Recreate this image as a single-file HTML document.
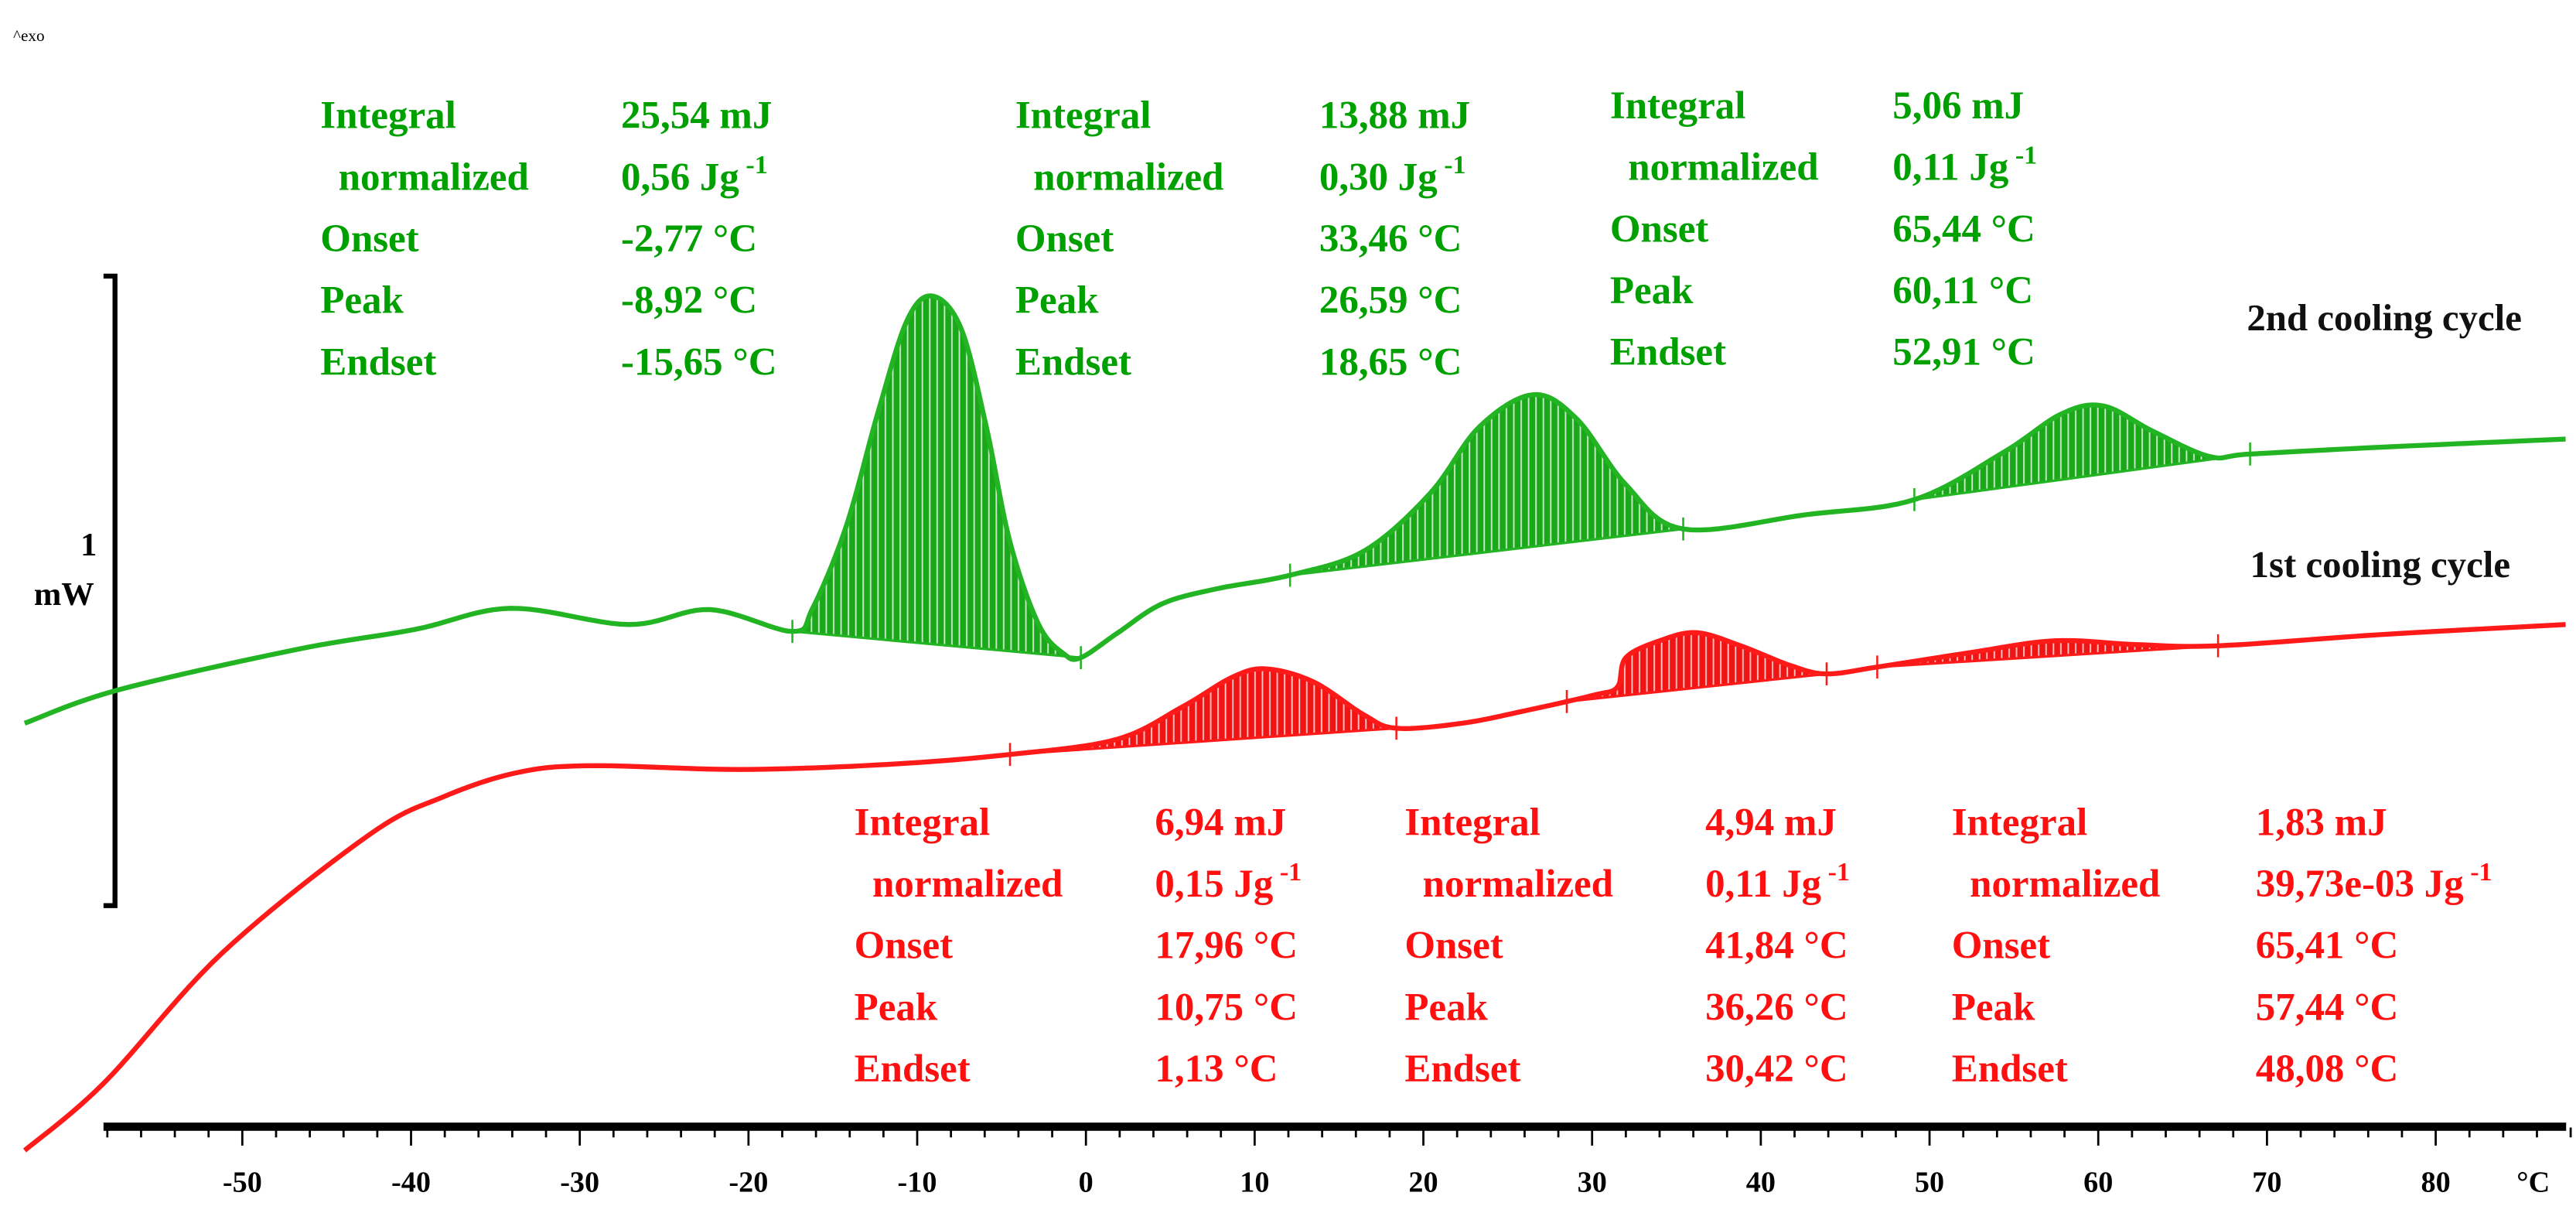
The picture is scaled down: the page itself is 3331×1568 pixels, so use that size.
<!DOCTYPE html>
<html><head><meta charset="utf-8">
<style>
html,body{margin:0;padding:0;background:#fff;}
svg{display:block;}
text{font-family:"Liberation Serif",serif;font-weight:bold;}
</style></head>
<body>
<svg id="chart" width="3331" height="1568" viewBox="0 0 1568 738" preserveAspectRatio="none" xmlns="http://www.w3.org/2000/svg">
<defs>
<pattern id="hatch" width="4.5" height="10" patternUnits="userSpaceOnUse">
<rect x="3" y="0" width="0.9" height="10" fill="#fff" opacity="0.75"/>
</pattern>
</defs>
<text x="8" y="25" font-size="10" font-family="Liberation Sans" style="font-weight:normal">^exo</text>
<g id="scalebar">
<path d="M63,168 L70,168 L70,551 L63,551" fill="none" stroke="#000" stroke-width="3"/>
<text x="54" y="338" font-size="20" text-anchor="middle">1</text>
<text x="39" y="368" font-size="20" text-anchor="middle">mW</text>
</g>
<g id="axis"></g>
<g id="fills"></g>
<g id="lines"></g>
<g id="marks"></g>
<text x="1535" y="201" font-size="23" text-anchor="end" fill="#111">2nd cooling cycle</text>
<text x="1528" y="351" font-size="23" text-anchor="end" fill="#111">1st cooling cycle</text>
<g id="tables"></g>
</svg>
<script>
// ---- data ----
const tickLabels = [-50,-40,-30,-20,-10,0,10,20,30,40,50,60,70,80];
const greenT = [-62.9,-57.4,-46.8,-39.8,-34.1,-27.1,-22.3,-17.4,-16.2,-14.2,-12.3,-10.6,-9.1,-7.4,-5.9,-4.5,-2.8,-1.3,-0.3,1.9,4.5,7.7,12.1,16.5,20.4,23.3,26.5,29.1,32.0,35.4,42.7,49.1,54.4,57.8,60.3,63.2,66.6,69.0,76.8,87.7];
const greenV = [0.421,0.474,0.539,0.571,0.605,0.579,0.603,0.568,0.605,0.737,0.921,1.066,1.105,1.053,0.895,0.711,0.579,0.532,0.526,0.566,0.612,0.636,0.658,0.697,0.789,0.895,0.947,0.908,0.803,0.732,0.755,0.779,0.855,0.916,0.929,0.889,0.848,0.852,0.863,0.876];
const redT = [-62.9,-58.2,-51.2,-42.5,-38.1,-33.7,-29.3,-20.5,-11.8,-4.5,1.8,5.7,8.7,10.7,13.5,16.5,18.4,22.3,26.2,30.1,31.5,32.0,34.0,36.2,38.8,41.8,43.9,46.9,52.4,57.4,62.2,67.1,76.8,87.7];
const redV = [-0.263,-0.155,0.053,0.242,0.303,0.342,0.353,0.347,0.355,0.371,0.395,0.447,0.495,0.508,0.487,0.434,0.413,0.421,0.442,0.466,0.479,0.526,0.553,0.566,0.545,0.513,0.500,0.511,0.534,0.553,0.547,0.545,0.563,0.579];
const greenRanges = [[-17.4,-0.3],[12.1,35.4],[49.1,69.0]];
const redRanges = [[-4.5,18.4],[28.5,43.9],[46.9,67.1]];
const greenLabels = ["Integral"," normalized","Onset","Peak","Endset"];
const greenVals1 = ["25,54 mJ","0,56 Jg","-2,77 °C","-8,92 °C","-15,65 °C"];
const greenVals2 = ["13,88 mJ","0,30 Jg","33,46 °C","26,59 °C","18,65 °C"];
const greenVals3 = ["5,06 mJ","0,11 Jg","65,44 °C","60,11 °C","52,91 °C"];
const redVals1 = ["6,94 mJ","0,15 Jg","17,96 °C","10,75 °C","1,13 °C"];
const redVals2 = ["4,94 mJ","0,11 Jg","41,84 °C","36,26 °C","30,42 °C"];
const redVals3 = ["1,83 mJ","39,73e-03 Jg","65,41 °C","57,44 °C","48,08 °C"];

// ---- scales ----
const NS="http://www.w3.org/2000/svg";
const xS = t => 661 + t*10.27;
const yS = v => 600 - v*380;
function mk(tag, attrs, parent){const e=document.createElementNS(NS,tag);for(const k in attrs)e.setAttribute(k,attrs[k]);parent.appendChild(e);return e;}

// axis
const ax=document.getElementById('axis');
const axLine = mk('rect',{x:63,y:683,width:1499,height:5,fill:'#000'},ax);


for(let t=-58;t<=88;t+=2){
  const major = t%10===0;
  const tk = mk('line',{x1:xS(t),x2:xS(t),y1:686,y2:major?697:692,stroke:'#000','stroke-width':1.3},ax);
  
  
}
tickLabels.forEach(t=>{
  const tx = mk('text',{x:xS(t),y:725,'font-size':18,'text-anchor':'middle'},ax);
  tx.textContent = String(t);
  
  
});
const unit = mk('text',{x:1542,y:725,'font-size':18,'text-anchor':'middle'},ax);
unit.textContent='°C';



// spline sampling
function sample(T,V){
  const pts=[];
  for(let i=0;i<T.length-1;i++){
    const p0=i>0?i-1:i,p3=i+2<T.length?i+2:i+1;
    for(let s=0;s<12;s++){
      const u=s/12,u2=u*u,u3=u2*u;
      const cr=(a,b,c,d)=>0.5*((2*b)+(-a+c)*u+(2*a-5*b+4*c-d)*u2+(-a+3*b-3*c+d)*u3);
      pts.push([cr(T[p0],T[i],T[i+1],T[p3]),cr(V[p0],V[i],V[i+1],V[p3])]);
    }
  }
  pts.push([T[T.length-1],V[V.length-1]]);
  return pts;
}
function valAt(pts,t){
  for(let i=0;i<pts.length-1;i++){if(pts[i][0]<=t&&pts[i+1][0]>=t){const f=(t-pts[i][0])/(pts[i+1][0]-pts[i][0]||1);return pts[i][1]+f*(pts[i+1][1]-pts[i][1]);}}
  return pts[pts.length-1][1];
}
function drawSeries(T,V,ranges,color,fillColor,name){
  const pts=sample(T,V);
  const fills=document.getElementById('fills');
  ranges.forEach((r,i)=>{
    const a=valAt(pts,r[0]),b=valAt(pts,r[1]);
    let d='M'+xS(r[0])+','+yS(a);
    pts.filter(p=>p[0]>r[0]&&p[0]<r[1]).forEach(p=>{d+=' L'+xS(p[0]).toFixed(2)+','+yS(p[1]).toFixed(2);});
    d+=' L'+xS(r[1])+','+yS(b)+' Z';
    const f=mk('path',{d:d,fill:fillColor},fills);
    
    
    const h=mk('path',{d:d,fill:'url(#hatch)'},fills);
    
    
    const bl=mk('line',{x1:xS(r[0]),y1:yS(a),x2:xS(r[1]),y2:yS(b),stroke:color,'stroke-width':1.5},fills);
    
    
    [[r[0],a],[r[1],b]].forEach(q=>{
      const m=mk('line',{x1:xS(q[0]),x2:xS(q[0]),y1:yS(q[1])-7,y2:yS(q[1])+7,stroke:color,'stroke-width':1.2},document.getElementById('marks'));
      
      
    });
  });
  let d='';
  pts.forEach((p,i)=>{d+=(i?' L':'M')+xS(p[0]).toFixed(2)+','+yS(p[1]).toFixed(2);});
  const ln=mk('path',{d:d,fill:'none',stroke:color,'stroke-width':3,'stroke-linejoin':'round'},document.getElementById('lines'));
  
  
}
drawSeries(greenT,greenV,greenRanges,'#22b422','#1aa81a','second-cycle');
drawSeries(redT,redV,redRanges,'#ff1a1a','#f01414','first-cycle');

// tables
function table(x1,x2,y0,vals,color,name){
  const g=document.getElementById('tables');
  greenLabels.forEach((l,i)=>{
    const y=y0+i*37.5;
    const a=mk('text',{x:x1,y:y,'font-size':24,fill:color},g);
    a.textContent=l; a.setAttribute('xml:space','preserve');
    if(i===1) a.setAttribute('x',x1+11);
    
    
    const b=mk('text',{x:x2,y:y,'font-size':24,fill:color},g);
    b.textContent=vals[i];
    if(i===1){const s=document.createElementNS(NS,'tspan');s.setAttribute('dy','-10');s.setAttribute('font-size','16');s.textContent=' -1';b.appendChild(s);}
    
    
  });
}
table(195,378,78,greenVals1,'#00a000','green-table-1');
table(618,803,78,greenVals2,'#00a000','green-table-2');
table(980,1152,72,greenVals3,'#00a000','green-table-3');
table(520,703,508,redVals1,'#ff1010','red-table-1');
table(855,1038,508,redVals2,'#ff1010','red-table-2');
table(1188,1373,508,redVals3,'#ff1010','red-table-3');
</script>
</body></html>
